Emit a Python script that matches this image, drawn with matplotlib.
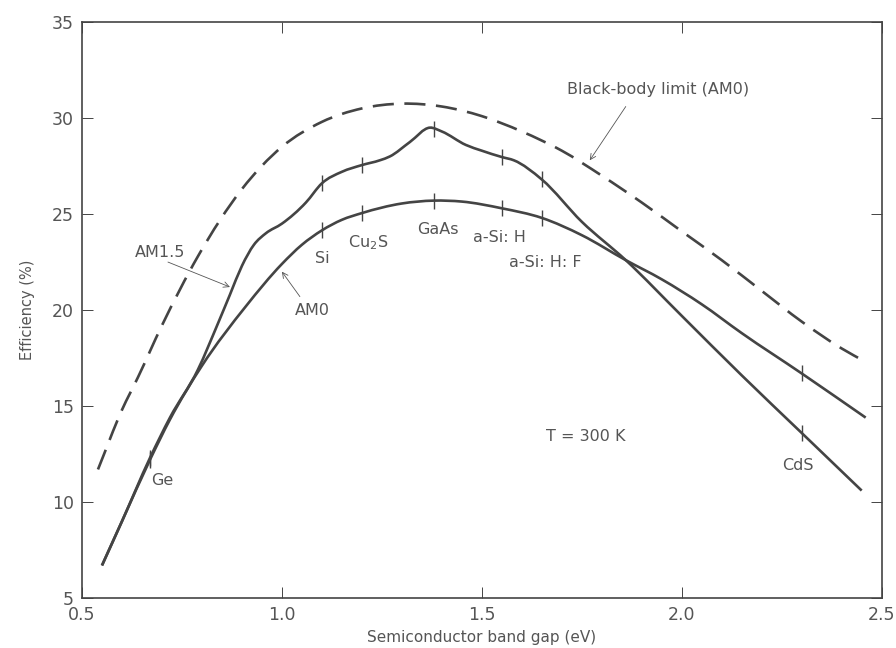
import numpy as np
import matplotlib
matplotlib.use("Agg")
import matplotlib.pyplot as plt
from matplotlib.path import Path
from matplotlib.patches import PathPatch

# Black-body limit (AM0), dashed
bb_x = [0.54, 0.60, 0.64, 0.70, 0.79, 0.90, 1.00, 1.10, 1.20, 1.30, 1.40, 1.50,
        1.60, 1.70, 1.80, 1.90, 2.00, 2.10, 2.20, 2.30, 2.40, 2.46]
bb_y = [11.7, 14.8, 16.5, 19.2, 22.8, 26.3, 28.5, 29.8, 30.5, 30.75, 30.6, 30.1,
        29.3, 28.3, 27.0, 25.6, 24.1, 22.6, 21.0, 19.4, 18.0, 17.3]

# AM0 curve
am0_x = [0.55, 0.60, 0.67, 0.72, 0.80, 0.91, 1.00, 1.05, 1.10, 1.15, 1.20, 1.30,
         1.38, 1.45, 1.55, 1.65, 1.75, 1.86, 1.95, 2.05, 2.15, 2.30, 2.46]
am0_y = [6.7, 9.0, 12.2, 14.3, 17.1, 20.2, 22.4, 23.4, 24.15, 24.7, 25.05, 25.55,
         25.7, 25.65, 25.3, 24.8, 23.9, 22.6, 21.6, 20.3, 18.8, 16.7, 14.4]

# AM1.5 curve
am15_x = [0.55, 0.60, 0.67, 0.72, 0.79, 0.84, 0.87, 0.90, 0.93, 0.96, 1.00, 1.06,
          1.10, 1.15, 1.20, 1.245, 1.27, 1.32, 1.37, 1.40, 1.46, 1.50, 1.55, 1.58,
          1.65, 1.75, 1.86, 2.00, 2.15, 2.30, 2.45]
am15_y = [6.7, 9.0, 12.3, 14.4, 16.9, 19.3, 20.8, 22.3, 23.4, 24.0, 24.5, 25.6,
          26.6, 27.2, 27.55, 27.8, 28.0, 28.75, 29.5, 29.3, 28.6, 28.3, 27.97, 27.8,
          26.8, 24.6, 22.6, 19.7, 16.6, 13.6, 10.6]

# Semiconductor band gaps marked on curves
mat_names = ["Ge", "Si", "Cu$_2$S", "GaAs", "a-Si: H", "a-Si: H: F", "CdS"]
mat_gap = [0.67, 1.10, 1.20, 1.38, 1.55, 1.65, 2.30]

xticks = [0.5, 1.0, 1.5, 2.0, 2.5]
yticks = [5, 10, 15, 20, 25, 30, 35]

ink = "#444444"
txt = "#555555"
plt.rcParams["font.family"] = ["DejaVu Sans"]


def slopes(x, y):
    x = np.asarray(x, float); y = np.asarray(y, float)
    h = np.diff(x); d = np.diff(y) / h
    m = np.empty_like(x)
    m[1:-1] = (h[1:] * d[:-1] + h[:-1] * d[1:]) / (h[:-1] + h[1:])
    m[0] = d[0]; m[-1] = d[-1]
    return m


def smooth_path(x, y):
    """Bezier path through the data points (rendering only)."""
    x = np.asarray(x, float); y = np.asarray(y, float)
    m = slopes(x, y)
    verts = [(x[0], y[0])]; codes = [Path.MOVETO]
    for i in range(len(x) - 1):
        h = x[i + 1] - x[i]
        verts += [(x[i] + h / 3, y[i] + m[i] * h / 3),
                  (x[i + 1] - h / 3, y[i + 1] - m[i + 1] * h / 3),
                  (x[i + 1], y[i + 1])]
        codes += [Path.CURVE4] * 3
    return Path(verts, codes)


fig = plt.figure(figsize=(8.96, 6.48), dpi=100)
ax = fig.add_axes([0.0915, 0.077, 0.8925, 0.889])

ax.add_patch(PathPatch(smooth_path(bb_x, bb_y), fill=False, edgecolor=ink,
                       lw=1.9, linestyle=(0, (8, 4)), capstyle="butt"))
ax.add_patch(PathPatch(smooth_path(am0_x, am0_y), fill=False, edgecolor=ink, lw=1.9))
ax.add_patch(PathPatch(smooth_path(am15_x, am15_y), fill=False, edgecolor=ink, lw=1.9))

# tick marks on curves
gaps = np.array(mat_gap)
ax.plot(gaps, np.interp(gaps, am0_x, am0_y), ls="none", marker="|",
        ms=12, mew=1.0, color=ink)
ax.plot(gaps, np.interp(gaps, am15_x, am15_y), ls="none", marker="|",
        ms=12, mew=1.0, color=ink)

# material labels
lab_pos = [(0.70, 11.15), (1.10, 22.7), (1.215, 23.5), (1.39, 24.2),
           (1.545, 23.8), (1.66, 22.5), (2.29, 11.9)]
for name, (lx, ly) in zip(mat_names, lab_pos):
    ax.text(lx, ly, name, ha="center", va="center", fontsize=11.5, color=txt)

ax.text(1.76, 13.4, "T = 300 K", ha="center", va="center", fontsize=11.5, color=txt)

arrow = dict(arrowstyle="->", color=txt, lw=0.6, shrinkA=0, shrinkB=0)
ax.text(1.94, 31.5, "Black-body limit (AM0)", ha="center", va="center",
        fontsize=11.5, color=txt)
ax.annotate("", xy=(1.77, 27.8), xytext=(1.86, 30.6), arrowprops=arrow)
ax.text(0.695, 23.0, "AM1.5", ha="center", va="center", fontsize=11.5, color=txt)
ax.annotate("", xy=(0.87, 21.2), xytext=(0.715, 22.5), arrowprops=arrow)
ax.text(1.075, 20.0, "AM0", ha="center", va="center", fontsize=11.5, color=txt)
ax.annotate("", xy=(1.0, 22.0), xytext=(1.045, 20.7), arrowprops=arrow)

ax.set_xlim(0.5, 2.5)
ax.set_ylim(5, 35)
ax.set_xticks(xticks)
ax.set_xticklabels([f"{v:.1f}" for v in xticks])
ax.set_yticks(yticks)
ax.tick_params(direction="in", length=8, width=0.7, color=ink, labelcolor=txt,
               labelsize=12.5, top=True, right=True, pad=6)
for s in ax.spines.values():
    s.set_color(ink)
    s.set_linewidth(1.2)

ax.set_xlabel("Semiconductor band gap (eV)", fontsize=11, color=txt, labelpad=4)
ax.set_ylabel("Efficiency (%)", fontsize=10.5, color=txt, labelpad=12)

fig.savefig("out.png", dpi=100)
